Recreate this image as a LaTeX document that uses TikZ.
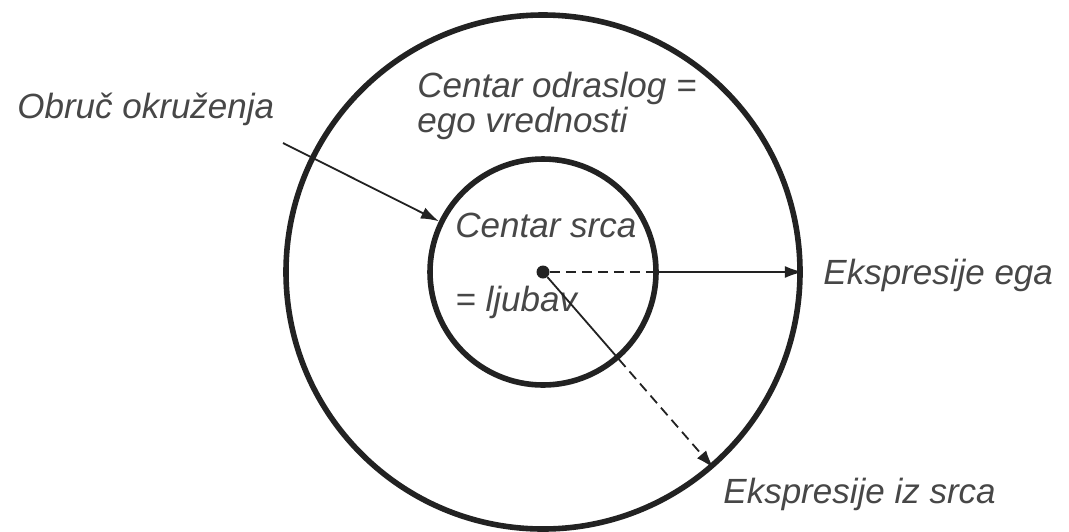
\documentclass[tikz,border=0pt]{standalone}
\usepackage{fontspec}
\setmainfont{Liberation Sans}
\usetikzlibrary{arrows.meta}
\definecolor{ink}{HTML}{222222}
\definecolor{labelgray}{HTML}{474747}

\begin{document}
\begin{tikzpicture}[
    x=0.5pt, y=-0.5pt,
    ring/.style={circle, draw=ink, line width=2.8pt, inner sep=0pt, minimum size=#1},
    hub/.style={circle, fill=ink, inner sep=0pt, minimum size=6.5pt},
    lbl/.style={font=\fontsize{17.5}{16}\selectfont\itshape, text=labelgray,
      inner sep=0pt, anchor=base west, align=left},
    link/.style={draw=ink, line width=0.9pt},
    >={Latex[length=9pt,width=6pt]}
  ]
  \useasboundingbox[fill=white] (0,0) rectangle (1069,531);

  % Circles
  \node[ring=257pt] (outer) at (543,272) {};
  \node[ring=113pt] (inner) at (543,272) {};
  \node[hub]        (heart) at (543,272) {};

  % Labels
  \node[lbl] (obruc)  at (17,118)   {Obruč okruženja};
  \node[lbl] (adult)  at (417,132)  {Centar odraslog =\\ego vrednosti};
  \node[lbl] (srce)   at (455,237)  {Centar srca};
  \node[lbl] (ljubav) at (455,311)  {= ljubav};
  \node[lbl] (ego)    at (823,284)  {Ekspresije ega};
  \node[lbl] (izsrca) at (723,503)  {Ekspresije iz srca};

  % Arrows
  \coordinate (obruc-tail) at (283,143);
  \draw[link, ->] (obruc-tail) -- (inner.154.5);

  \draw[link, dash pattern=on 5pt off 3pt] (heart) -- (inner.east);
  \draw[link, ->] (inner.east) -- (outer.east);

  \draw[link] (heart) -- (inner.-49.5);
  \draw[link, ->, dash pattern=on 5pt off 3pt] (inner.-49.5) -- (outer.-49.5);
\end{tikzpicture}
\end{document}
